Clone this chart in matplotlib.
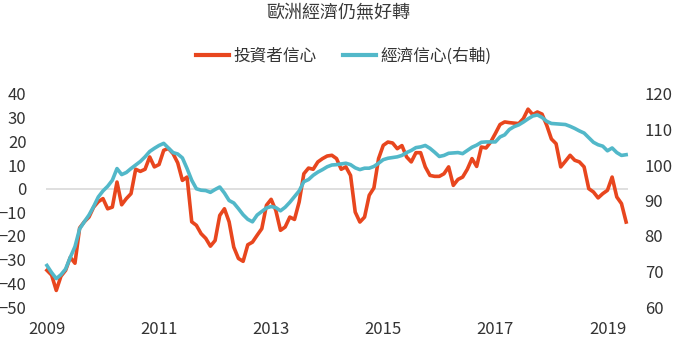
import numpy as np
import matplotlib
matplotlib.use("Agg")
import matplotlib.pyplot as plt

plt.rcParams['font.family'] = ['Noto Sans CJK TC', 'DejaVu Sans']

# 月度數據：2009年1月起
investor = [
    -34.5, -36.5, -43, -37, -34.5, -29, -31.5, -16.6, -14, -12,
    -7.8, -5.5, -4.2, -8.5, -7.8, 2.8, -6.8, -4.2, -2.1, 8.2,
    7.3, 8.2, 13.4, 9.2, 10.2, 16.2, 17, 14.8, 10.9, 3.5,
    4.9, -14, -15.5, -19, -21, -24.3, -21.9, -11.3, -8.5, -14,
    -24.7, -29.5, -30.7, -23.7, -22.6, -19.7, -16.9, -7, -4.5, -9.2,
    -17.6, -16.2, -12, -13, -5.6, 6.3, 8.7, 8.2, 11.3, 12.7,
    13.8, 14.1, 12.7, 8.2, 9.2, 5.6, -9.9, -14.1, -12, -2.8,
    0.3, 12.7, 18.3, 19.7, 19.3, 16.9, 18.2, 13.4, 11.3, 15.2,
    15.2, 9.2, 5.6, 5.2, 5.2, 6.3, 9.2, 1.4, 3.9, 4.9,
    8.2, 12.7, 9.4, 17.6, 17.2, 19.7, 23.3, 27.1, 28.2, 27.9,
    27.7, 27.5, 29.6, 33.6, 31.3, 32.4, 31.5, 26.8, 21, 19,
    9.2, 11.6, 14.1, 12, 11.3, 9.2, 0, -1.4, -3.9, -2.1,
    -0.7, 4.9, -3.5, -6.3, -14.1,
]
economic = [
    71.7, 69.7, 68.0, 69.1, 70.7, 74.0, 77.0, 82.0, 84.0, 85.9,
    88.3, 91.0, 92.7, 94.0, 95.7, 99.0, 97.3, 97.9, 99.0, 100.0,
    101.0, 102.3, 103.8, 104.7, 105.5, 106.1, 104.8, 103.5, 103.1, 102.0,
    99.0, 95.7, 93.3, 92.9, 92.8, 92.3, 93.1, 93.8, 92.1, 90.0,
    89.3, 87.7, 86.0, 84.7, 84.0, 85.9, 86.9, 87.9, 88.3, 88.0,
    87.1, 88.1, 89.5, 91.1, 92.7, 95.3, 95.9, 97.1, 98.0, 98.7,
    99.5, 100.0, 100.1, 100.3, 100.5, 100.1, 99.2, 98.7, 99.1, 99.1,
    99.6, 100.5, 101.5, 101.9, 102.1, 102.3, 102.7, 103.5, 104.1, 104.9,
    105.1, 105.5, 104.7, 103.6, 102.4, 102.7, 103.3, 103.4, 103.5, 103.2,
    104.1, 105.0, 105.6, 106.4, 106.5, 106.5, 106.5, 107.9, 108.5, 110.0,
    110.8, 111.3, 112.1, 113.0, 113.8, 114.1, 113.4, 112.3, 111.7, 111.6,
    111.5, 111.4, 110.9, 110.3, 109.6, 109.0, 107.7, 106.4, 105.7, 105.3,
    104.0, 104.8, 103.5, 102.7, 102.9,
]
year_labels = ['2009', '2011', '2013', '2015', '2017', '2019']

red = '#E8461E'
teal = '#52B8C9'
txt = '#333333'

months = np.arange(len(investor))
fig = plt.figure(figsize=(6.8, 3.4), dpi=100)
ax = fig.add_axes([46 / 680, 33 / 340, 582 / 680, 213 / 340])
ax2 = ax.twinx()

ax.axhline(0, color='#d9d9d9', lw=1.2, zorder=0)
ax.plot(months, investor, color=red, lw=2.6, solid_joinstyle='round', clip_on=False)
ax2.plot(months, economic, color=teal, lw=2.6, solid_joinstyle='round', clip_on=False)

ax.set_xlim(-0.2, len(investor) - 0.6)
ax.set_ylim(-50, 40)
ax2.set_ylim(60, 120)
ax.set_yticks(range(-50, 41, 10))
ax2.set_yticks(range(60, 121, 10))
ax.set_xticks(range(0, 121, 24))
ax.set_xticklabels(year_labels)

for a in (ax, ax2):
    for s in a.spines.values():
        s.set_visible(False)
    a.tick_params(length=0, labelsize=12, colors=txt)
ax.tick_params(axis='y', pad=14)
ax2.tick_params(axis='y', pad=12)
ax.tick_params(axis='x', pad=10)
for lbl in ax.get_yticklabels():
    lbl.set_horizontalalignment('right')

fig.text(0.497, 0.962, '歐洲經濟仍無好轉', ha='center', va='center',
         fontsize=13, color='#3a3a3a', fontweight='medium')

h1, = ax.plot([], [], color=red, lw=3)
h2, = ax.plot([], [], color=teal, lw=3)
fig.legend([h1, h2], ['投資者信心', '經濟信心(右軸)'], loc='center',
           bbox_to_anchor=(0.505, 0.835), ncol=2, frameon=False, fontsize=12,
           handlelength=2.0, handletextpad=0.25, columnspacing=1.6,
           labelcolor=txt)

fig.savefig('out.png', dpi=100)
